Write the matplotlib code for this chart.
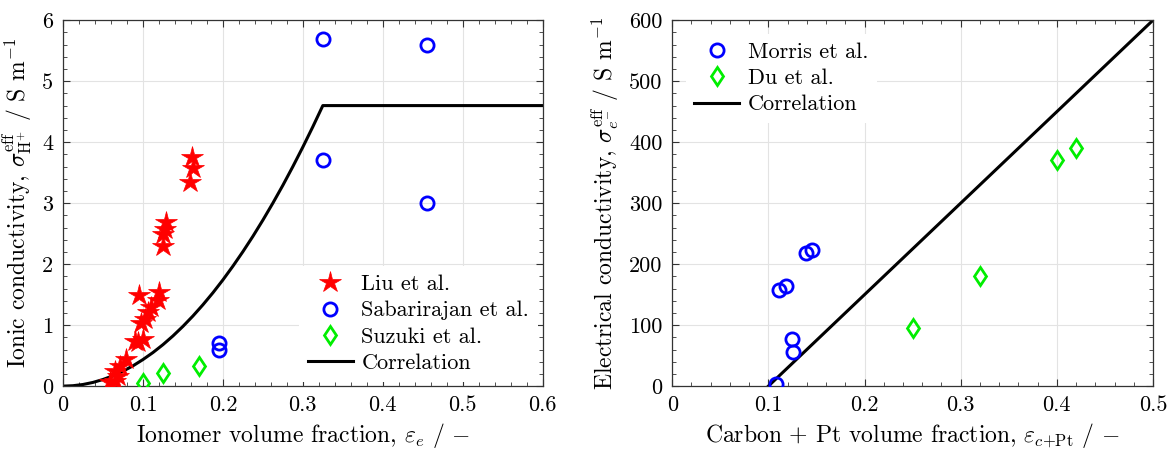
import numpy as np
import matplotlib
matplotlib.use("Agg")
from matplotlib import pyplot as plt
from matplotlib.ticker import MultipleLocator, FuncFormatter

plt.rcParams['font.family'] = 'cmr10'
plt.rcParams['mathtext.fontset'] = 'cm'
plt.rcParams['axes.formatter.use_mathtext'] = True
plt.rcParams['axes.unicode_minus'] = False

# Ionic conductivity data (S/m) vs ionomer volume fraction
liu_x = [0.1615, 0.162, 0.159, 0.129, 0.127, 0.125, 0.125, 0.120, 0.119, 0.0946,
         0.1096, 0.106, 0.102, 0.098, 0.100, 0.094, 0.0897, 0.0785, 0.071, 0.065,
         0.065, 0.0585, 0.069]
liu_y = [3.75, 3.57, 3.35, 2.69, 2.58, 2.50, 2.29, 1.55, 1.41, 1.50,
         1.29, 1.21, 1.10, 1.04, 0.77, 0.72, 0.74, 0.44, 0.33, 0.25,
         0.08, 0.06, 0.16]
sab_x = [0.325, 0.455, 0.325, 0.455, 0.195, 0.195]
sab_y = [5.70, 5.60, 3.70, 3.00, 0.70, 0.60]
suz_x = [0.100, 0.125, 0.170]
suz_y = [0.05, 0.22, 0.33]
ion_corr_x = [0, 0.0125, 0.025, 0.0375, 0.05, 0.0625, 0.075, 0.0875, 0.1, 0.1125,
              0.125, 0.1375, 0.15, 0.1625, 0.175, 0.1875, 0.2, 0.2125, 0.225,
              0.2375, 0.25, 0.2625, 0.275, 0.2875, 0.3, 0.3125, 0.325, 0.6]
ion_corr_y = [0, 0.007, 0.027, 0.061, 0.109, 0.170, 0.245, 0.333, 0.436, 0.551,
              0.680, 0.823, 0.980, 1.150, 1.334, 1.531, 1.742, 1.967, 2.205,
              2.456, 2.722, 3.001, 3.293, 3.600, 3.920, 4.253, 4.600, 4.600]

# Electrical conductivity data (S/m) vs carbon + Pt volume fraction
mor_x = [0.108, 0.111, 0.118, 0.1245, 0.126, 0.139, 0.145]
mor_y = [4, 157, 165, 78, 56, 219, 224]
du_x = [0.25, 0.32, 0.40, 0.42]
du_y = [95, 180, 370, 390]
el_corr_x = [0.1, 0.5]
el_corr_y = [0, 600]

fs = 16
lfs = 17
fmt = FuncFormatter(lambda v, pos: '%g' % round(v, 6))

fig = plt.figure(figsize=(11.67, 4.49), dpi=100)
ax1 = fig.add_axes([0.054, 0.140, 0.411, 0.815])
ax2 = fig.add_axes([0.576, 0.140, 0.412, 0.815])

ax1.plot(liu_x, liu_y, '*', color='#ff0000', ms=16, mew=0.5, label='Liu et al.', zorder=3)
ax1.plot(sab_x, sab_y, 'o', mfc='none', mec='#0000ff', ms=9.5, mew=2, label='Sabarirajan et al.', zorder=3)
ax1.plot(suz_x, suz_y, 'd', mfc='none', mec='#00ee00', ms=9.5, mew=2, label='Suzuki et al.', zorder=3)
ax1.plot(ion_corr_x, ion_corr_y, 'k-', lw=2.2, label='Correlation', zorder=2)
ax1.set_xlim(0, 0.6)
ax1.set_ylim(0, 6)
ax1.xaxis.set_major_locator(MultipleLocator(0.1))
ax1.xaxis.set_minor_locator(MultipleLocator(0.02))
ax1.yaxis.set_major_locator(MultipleLocator(1))
ax1.yaxis.set_minor_locator(MultipleLocator(0.2))
ax1.set_xlabel(r'Ionomer volume fraction, $\varepsilon_e$ / $-$', fontsize=lfs, labelpad=4)
ax1.set_ylabel(r'Ionic conductivity, $\sigma^{\rm eff}_{\rm H^{+}}$ / S m$^{-1}$', fontsize=lfs, labelpad=6)
ax1.legend(loc='lower right', fontsize=fs, frameon=True, framealpha=1, edgecolor='none',
           fancybox=False, borderaxespad=0.2, handletextpad=0.4, labelspacing=0.3,
           handlelength=2.0)

ax2.plot(mor_x, mor_y, 'o', mfc='none', mec='#0000ff', ms=9.5, mew=2, label='Morris et al.', zorder=3)
ax2.plot(du_x, du_y, 'd', mfc='none', mec='#00ee00', ms=9.5, mew=2, label='Du et al.', zorder=3)
ax2.plot(el_corr_x, el_corr_y, 'k-', lw=2.2, label='Correlation', zorder=2)
ax2.set_xlim(0, 0.5)
ax2.set_ylim(0, 600)
ax2.xaxis.set_major_locator(MultipleLocator(0.1))
ax2.xaxis.set_minor_locator(MultipleLocator(0.02))
ax2.yaxis.set_major_locator(MultipleLocator(100))
ax2.yaxis.set_minor_locator(MultipleLocator(20))
ax2.set_xlabel(r'Carbon + Pt volume fraction, $\varepsilon_{c\rm{+Pt}}$ / $-$', fontsize=lfs, labelpad=4)
ax2.set_ylabel(r'Electrical conductivity, $\sigma^{\rm eff}_{e^{-}}$ / S m$^{-1}$', fontsize=lfs, labelpad=6)
ax2.legend(loc='upper left', fontsize=fs, frameon=True, framealpha=1, edgecolor='none',
           fancybox=False, borderaxespad=0.6, handletextpad=0.4, labelspacing=0.3,
           handlelength=2.0)

for ax in (ax1, ax2):
    ax.xaxis.set_major_formatter(fmt)
    ax.yaxis.set_major_formatter(fmt)
    ax.grid(True, which='major', color='#e3e3e3', lw=0.8)
    ax.set_axisbelow(True)
    ax.tick_params(which='both', direction='in', top=True, right=True, labelsize=fs,
                   color='#333333', pad=7)
    ax.tick_params(which='major', length=5)
    ax.tick_params(which='minor', length=3)
    for s in ax.spines.values():
        s.set_color('#333333')
        s.set_linewidth(0.9)

fig.savefig('out.png', dpi=100)
